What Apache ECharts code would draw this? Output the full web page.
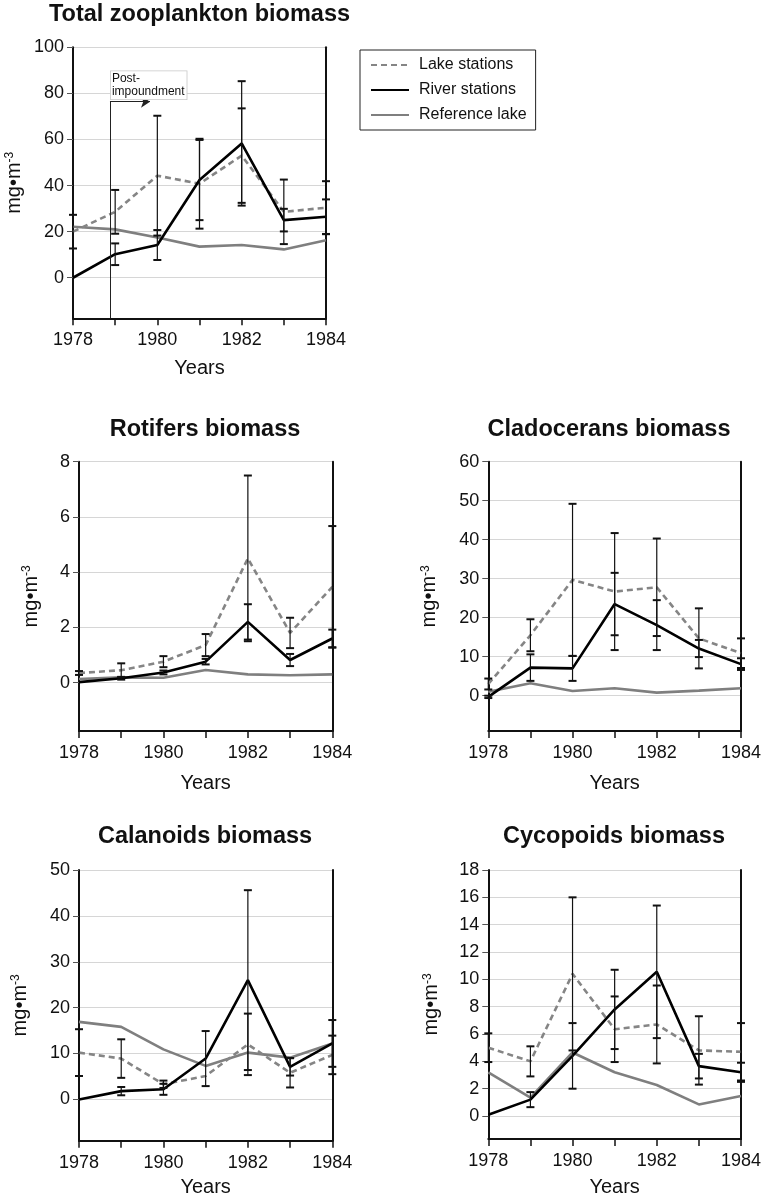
<!DOCTYPE html>
<html>
<head>
<meta charset="utf-8">
<script src="https://cdn.jsdelivr.net/npm/echarts@6/dist/echarts.min.js"></script>
<style>
  html, body { margin: 0; padding: 0; background: #fff; }
  #chart { width: 765px; height: 1199px; }
</style>
</head>
<body>
<div id="chart"></div>
<script>
// ---------- data ----------
const years = [1978, 1979, 1980, 1981, 1982, 1983, 1984];
const seriesNames = ['Lake stations', 'River stations', 'Reference lake'];

const panelTitles = ['Total zooplankton biomass', 'Rotifers biomass', 'Cladocerans biomass', 'Calanoids biomass', 'Cycopoids biomass'];

// Total zooplankton
const totalLake      = [20, 28.6, 44.3, 40.8, 53, 28.6, 30.4];
const totalLakeErr   = [7.3, 9.5, 26, 19.5, 20.5, 14, 11.5];
const totalRiver     = [0, 10.2, 14.2, 42.4, 58.3, 25, 26.5];
const totalRiverErr  = [null, 4.7, 6.5, 17.4, 27, 4.9, 7.5];
const totalRef       = [22.1, 21, 17.5, 13.5, 14.2, 12.3, 16.3];

// Rotifers
const rotLake        = [0.35, 0.45, 0.76, 1.36, 4.5, 1.8, 3.47];
const rotLakeErr     = [0.07, 0.25, 0.2, 0.4, 3.0, 0.55, 2.2];
const rotRiver       = [0.02, 0.16, 0.37, 0.76, 2.2, 0.82, 1.6];
const rotRiverErr    = [null, 0.05, 0.07, 0.1, 0.64, 0.22, 0.32];
const rotRef         = [0.13, 0.19, 0.18, 0.46, 0.3, 0.27, 0.3];

// Cladocerans
const cladLake       = [3.0, 15.5, 29.7, 26.7, 27.8, 14.7, 10.9];
const cladLakeErr    = [1.4, 4.1, 19.5, 15, 12.5, 7.7, 3.8];
const cladRiver      = [-0.3, 7.2, 7.0, 23.5, 18.1, 12.1, 8.1];
const cladRiverErr   = [0.3, 3.4, 3.2, 8, 6.4, 2.2, 1.5];
const cladRef        = [1.0, 3.2, 1.2, 1.9, 0.8, 1.3, 1.9];

// Calanoids
const calLake        = [10.2, 8.9, 3.3, 5.1, 12, 5.8, 9.7];
const calLakeErr     = [5.1, 4.2, 0.8, null, 6.7, 3.2, 4.2];
const calRiver       = [0, 1.8, 2.2, 8.9, 26, 7.1, 12.2];
const calRiverErr    = [null, 0.9, 1.2, 6, 19.6, 1.9, 5.1];
const calRef         = [16.9, 15.8, 10.9, 7.3, 10.2, 9.1, 12.2];

// Cycopoids
const cycLake        = [5.0, 4.0, 10.4, 6.35, 6.7, 4.8, 4.7];
const cycLakeErr     = [1.05, 1.1, 5.6, 2.4, 2.85, 2.5, 2.1];
const cycRiver       = [0.1, 1.2, 4.4, 7.8, 10.55, 3.65, 3.2];
const cycRiverErr    = [null, 0.55, 2.4, 2.9, 4.85, 0.9, 0.7];
const cycRef         = [3.2, 1.35, 4.65, 3.2, 2.27, 0.85, 1.46];

// y-axis tick labels and ranges
const totalTicks = [0, 20, 40, 60, 80, 100];
const rotTicks   = [0, 2, 4, 6, 8];
const cladTicks  = [0, 10, 20, 30, 40, 50, 60];
const calTicks   = [0, 10, 20, 30, 40, 50];
const cycTicks   = [0, 2, 4, 6, 8, 10, 12, 14, 16, 18];
const yMins = [-17.6, -1.75, -9.05, -9, -1.68];

// annotation
const impoundYear = 1978.877;
const arrowEndYear = 1979.826;
const arrowLevel = 76.4;
const annotationText = 'Post-\nimpoundment';

// ---------- build ----------
const FONT = '"Liberation Sans", Arial, Helvetica, sans-serif';
const panels = [
  { lake: totalLake, lakeErr: totalLakeErr, river: totalRiver, riverErr: totalRiverErr, ref: totalRef, ticks: totalTicks },
  { lake: rotLake, lakeErr: rotLakeErr, river: rotRiver, riverErr: rotRiverErr, ref: rotRef, ticks: rotTicks },
  { lake: cladLake, lakeErr: cladLakeErr, river: cladRiver, riverErr: cladRiverErr, ref: cladRef, ticks: cladTicks },
  { lake: calLake, lakeErr: calLakeErr, river: calRiver, riverErr: calRiverErr, ref: calRef, ticks: calTicks },
  { lake: cycLake, lakeErr: cycLakeErr, river: cycRiver, riverErr: cycRiverErr, ref: cycRef, ticks: cycTicks }
];

const grids = [
  { left: 73,    top: 47.3,  width: 253,   height: 271 },
  { left: 79,    top: 461.7, width: 253.3, height: 269.3 },
  { left: 488.3, top: 461.7, width: 252.7, height: 269.3 },
  { left: 79,    top: 870,   width: 253.3, height: 270.7 },
  { left: 488.3, top: 870,   width: 252.7, height: 269 }
];
const titlePos = [
  { x: 199.5, y: 3 }, { x: 205, y: 418 }, { x: 609, y: 418 }, { x: 205, y: 825 }, { x: 614, y: 825 }
];
const yNameGaps = [49, 38, 49, 49, 47];
const xNameGaps = [40, 42, 42, 37, 38];

const pairs = (vals) => years.map((y, i) => [y, vals[i]]);
const errData = (vals, errs) => years
  .map((y, i) => errs[i] == null ? null : [y, vals[i] - errs[i], vals[i] + errs[i]])
  .filter(d => d);

function renderErr(params, api) {
  const x = api.value(0), lo = api.value(1), hi = api.value(2);
  const pLo = api.coord([x, lo]);
  const pHi = api.coord([x, hi]);
  const w = 4;
  return {
    type: 'group',
    children: [
      { type: 'line', shape: { x1: pHi[0], y1: pHi[1], x2: pLo[0], y2: pLo[1] }, style: { stroke: '#111', lineWidth: 1.2 } },
      { type: 'line', shape: { x1: pHi[0] - w, y1: pHi[1], x2: pHi[0] + w, y2: pHi[1] }, style: { stroke: '#111', lineWidth: 2 } },
      { type: 'line', shape: { x1: pLo[0] - w, y1: pLo[1], x2: pLo[0] + w, y2: pLo[1] }, style: { stroke: '#111', lineWidth: 2 } }
    ]
  };
}

const option = {
  animation: false,
  backgroundColor: '#fff',
  textStyle: { fontFamily: FONT },
  title: panelTitles.map((t, i) => ({
    text: t,
    left: titlePos[i].x,
    top: titlePos[i].y,
    textAlign: 'center',
    padding: 0,
    textStyle: { fontFamily: FONT, fontSize: 23.5, fontWeight: 'bold', color: '#111' }
  })),
  legend: {
    data: seriesNames,
    orient: 'vertical',
    left: 360,
    top: 50,
    itemWidth: 38,
    itemHeight: 14,
    itemGap: 9,
    padding: [7, 9, 7, 10],
    borderColor: '#222',
    borderWidth: 1,
    selectedMode: false,
    itemStyle: { color: 'rgba(0,0,0,0)', borderWidth: 0, opacity: 0 },
    textStyle: { fontFamily: FONT, fontSize: 16, color: '#111', padding: [0, 0, 0, 5] }
  },
  grid: grids.map(g => Object.assign({ containLabel: false }, g)),
  xAxis: grids.map((g, i) => ({
    type: 'value',
    gridIndex: i,
    min: years[0],
    max: years[years.length - 1],
    interval: 1,
    name: 'Years',
    nameLocation: 'middle',
    nameGap: xNameGaps[i],
    nameTextStyle: { fontFamily: FONT, fontSize: 20, color: '#111' },
    axisLine: { show: true, onZero: false, lineStyle: { color: '#111', width: 2 } },
    axisTick: { show: true, length: 7, lineStyle: { color: '#111', width: 1.5 } },
    axisLabel: {
      fontFamily: FONT, fontSize: 18, color: '#111', margin: 13,
      formatter: v => (v % 2 === 0 ? String(v) : '')
    },
    splitLine: { show: false }
  })),
  yAxis: [].concat(
    panels.map((p, i) => ({
      type: 'value',
      gridIndex: i,
      min: yMins[i],
      max: p.ticks[p.ticks.length - 1],
      name: '{a|mg•m}{b|-3}',
      nameLocation: 'middle',
      nameGap: yNameGaps[i],
      nameTextStyle: {
        color: '#111',
        rich: {
          a: { fontFamily: FONT, fontSize: 20, color: '#111' },
          b: { fontFamily: FONT, fontSize: 12, color: '#111', verticalAlign: 'top' }
        }
      },
      axisLine: { show: true, onZero: false, lineStyle: { color: '#111', width: 2 } },
      axisTick: { show: true, length: 6, customValues: p.ticks, lineStyle: { color: '#555', width: 1 } },
      axisLabel: { show: true, customValues: p.ticks, fontFamily: FONT, fontSize: 18, color: '#111', margin: 9 },
      splitLine: { show: true, lineStyle: { color: '#d6d6d6', width: 1 } }
    })),
    panels.map((p, i) => ({
      type: 'value',
      gridIndex: i,
      position: 'right',
      min: yMins[i],
      max: p.ticks[p.ticks.length - 1],
      axisLine: { show: true, onZero: false, lineStyle: { color: '#111', width: 2 } },
      axisTick: { show: false },
      axisLabel: { show: false },
      splitLine: { show: false }
    }))
  ),
  series: []
};

panels.forEach((p, i) => {
  option.series.push({
    name: 'Reference lake', type: 'line', xAxisIndex: i, yAxisIndex: i,
    data: pairs(p.ref), symbol: 'none', z: 2,
    lineStyle: { color: '#7f7f7f', width: 2.6 }, itemStyle: { color: '#7f7f7f' }
  });
  option.series.push({
    name: 'Lake stations', type: 'line', xAxisIndex: i, yAxisIndex: i,
    data: pairs(p.lake), symbol: 'none', z: 3,
    lineStyle: { color: '#858585', width: 2.6, type: [6, 4] }, itemStyle: { color: '#858585' }
  });
  const river = {
    name: 'River stations', type: 'line', xAxisIndex: i, yAxisIndex: i,
    data: pairs(p.river), symbol: 'none', z: 4,
    lineStyle: { color: '#000', width: 2.6 }, itemStyle: { color: '#000' }
  };
  if (i === 0) {
    river.markLine = {
      silent: true,
      symbol: ['none', 'arrow'],
      symbolSize: 9,
      label: { show: false },
      lineStyle: { color: '#222', width: 1, type: 'solid' },
      data: [
        [{ coord: [impoundYear, arrowLevel], symbol: 'none' }, { coord: [impoundYear, yMins[0]], symbol: 'none' }],
        [{ coord: [impoundYear, arrowLevel], symbol: 'none' }, { coord: [arrowEndYear, arrowLevel], symbol: 'arrow' }]
      ]
    };
    river.markPoint = {
      silent: true,
      symbol: 'rect',
      symbolSize: 1,
      itemStyle: { color: 'rgba(0,0,0,0)' },
      data: [{ coord: [impoundYear + 0.01, 83.5] }],
      label: {
        show: true, position: 'right', distance: 0,
        formatter: annotationText,
        fontFamily: FONT, fontSize: 12, lineHeight: 13, color: '#111',
        backgroundColor: '#fff', borderColor: '#c8c8c8', borderWidth: 0.8,
        padding: [1, 2, 1, 1]
      }
    };
  }
  option.series.push(river);
  option.series.push({
    name: 'Lake stations err', type: 'custom', xAxisIndex: i, yAxisIndex: i,
    data: errData(p.lake, p.lakeErr), encode: { x: 0, y: [1, 2] },
    renderItem: renderErr, clip: false, z: 6, silent: true
  });
  option.series.push({
    name: 'River stations err', type: 'custom', xAxisIndex: i, yAxisIndex: i,
    data: errData(p.river, p.riverErr), encode: { x: 0, y: [1, 2] },
    renderItem: renderErr, clip: false, z: 6, silent: true
  });
});

const chart = echarts.init(document.getElementById('chart'), null, { renderer: 'canvas' });
chart.setOption(option);
</script>
</body>
</html>
